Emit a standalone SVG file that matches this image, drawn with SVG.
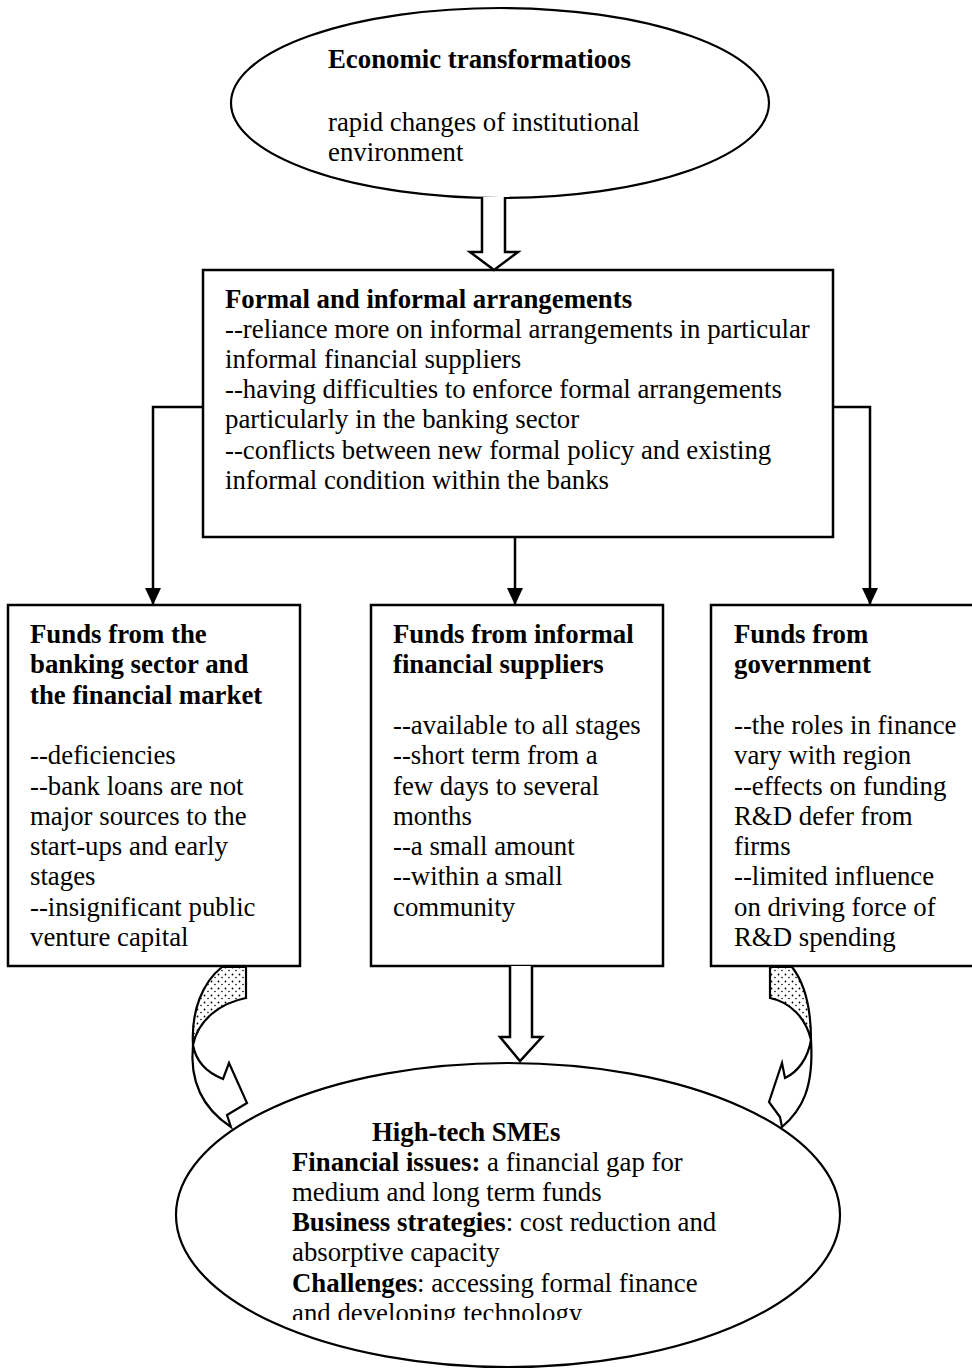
<svg xmlns="http://www.w3.org/2000/svg" width="972" height="1369" viewBox="0 0 972 1369">
<defs>
<style>
.t{font-family:"Liberation Serif","Times New Roman",serif;font-size:26.8px;fill:#000}
.b{font-weight:bold}
.box{fill:#fff;stroke:#000;stroke-width:2.5}
.ell{fill:#fff;stroke:#000;stroke-width:2.2}
.ln{fill:none;stroke:#000;stroke-width:2.5}
.hol{fill:#fff;stroke:#000;stroke-width:2.5;stroke-linejoin:miter}
.cur{fill:#fff;stroke:#000;stroke-width:2.2;stroke-linejoin:miter}
.dot{fill:url(#stip);stroke:#000;stroke-width:2.2}
</style>
<marker id="ah" markerUnits="userSpaceOnUse" markerWidth="18" markerHeight="18" viewBox="0 0 18 18" refX="17" refY="9" orient="auto">
<path d="M0,1 L17,9 L0,17 Z" fill="#000"/>
</marker>
<pattern id="stip" patternUnits="userSpaceOnUse" width="7" height="7">
<rect width="7" height="7" fill="#fff"/>
<circle cx="1.5" cy="1.5" r="0.9" fill="#000"/>
<circle cx="5" cy="4.5" r="0.8" fill="#000"/>
</pattern>
<clipPath id="clipLast"><rect x="0" y="1290" width="972" height="30"/></clipPath>
</defs>

<g id="node-economic">
<ellipse class="ell" cx="500" cy="103" rx="269" ry="95"/>
<text class="t b" x="328" y="68">Economic transformatioos</text>
<text class="t" x="328" y="131">rapid changes of institutional</text>
<text class="t" x="328" y="161">environment</text>
</g>

<g id="node-formal">
<rect class="box" x="203" y="270" width="630" height="267"/>
<text class="t b" x="225" y="308">Formal and informal arrangements</text>
<text class="t" x="225" y="338">--reliance more on informal arrangements in particular</text>
<text class="t" x="225" y="368">informal financial suppliers</text>
<text class="t" x="225" y="398">--having difficulties to enforce formal arrangements</text>
<text class="t" x="225" y="428">particularly in the banking sector</text>
<text class="t" x="225" y="459">--conflicts between new formal policy and existing</text>
<text class="t" x="225" y="489">informal condition within the banks</text>
</g>

<g id="node-banking">
<rect class="box" x="8" y="605" width="292" height="361"/>
<text class="t b" x="30" y="643">Funds from the</text>
<text class="t b" x="30" y="673">banking sector and</text>
<text class="t b" x="30" y="704">the financial market</text>
<text class="t" x="30" y="764">--deficiencies</text>
<text class="t" x="30" y="795">--bank loans are not</text>
<text class="t" x="30" y="825">major sources to the</text>
<text class="t" x="30" y="855">start-ups and early</text>
<text class="t" x="30" y="885">stages</text>
<text class="t" x="30" y="916">--insignificant public</text>
<text class="t" x="30" y="946">venture capital</text>
</g>

<g id="node-informal">
<rect class="box" x="371" y="605" width="292" height="361"/>
<text class="t b" x="393" y="643">Funds from informal</text>
<text class="t b" x="393" y="673">financial suppliers</text>
<text class="t" x="393" y="734">--available to all stages</text>
<text class="t" x="393" y="764">--short term from a</text>
<text class="t" x="393" y="795">few days to several</text>
<text class="t" x="393" y="825">months</text>
<text class="t" x="393" y="855">--a small amount</text>
<text class="t" x="393" y="885">--within a small</text>
<text class="t" x="393" y="916">community</text>
</g>

<g id="node-government">
<rect class="box" x="711" y="605" width="280" height="361"/>
<text class="t b" x="734" y="643">Funds from</text>
<text class="t b" x="734" y="673">government</text>
<text class="t" x="734" y="734">--the roles in finance</text>
<text class="t" x="734" y="764">vary with region</text>
<text class="t" x="734" y="795">--effects on funding</text>
<text class="t" x="734" y="825">R&amp;D defer from</text>
<text class="t" x="734" y="855">firms</text>
<text class="t" x="734" y="885">--limited influence</text>
<text class="t" x="734" y="916">on driving force of</text>
<text class="t" x="734" y="946">R&amp;D spending</text>
</g>

<g id="node-smes">
<ellipse class="ell" cx="508" cy="1215" rx="332" ry="152"/>
<text class="t b" x="372" y="1141">High-tech SMEs</text>
<text class="t" x="292" y="1171"><tspan class="b">Financial issues:</tspan> a financial gap for</text>
<text class="t" x="292" y="1201">medium and long term funds</text>
<text class="t" x="292" y="1231"><tspan class="b">Business strategies</tspan>: cost reduction and</text>
<text class="t" x="292" y="1261">absorptive capacity</text>
<text class="t" x="292" y="1292"><tspan class="b">Challenges</tspan>: accessing formal finance</text>
<text class="t" x="292" y="1322" clip-path="url(#clipLast)">and developing technology</text>
</g>

<g id="connectors">
<path class="hol" d="M482,197 V252 H470 L494,270 L518,252 H505 V197"/>
<path class="ln" d="M203,407 H153 V605" marker-end="url(#ah)"/>
<path class="ln" d="M833,407 H870 V605" marker-end="url(#ah)"/>
<path class="ln" d="M515,537 V605" marker-end="url(#ah)"/>
<path class="hol" d="M510,966 V1037 H500 L520,1061 L542,1037 H532 V966"/>
<path class="dot" d="M222,967 L246,967 L246,998 C220,1003 198,1020 193,1045 C191,1010 203,982 222,967 Z"/>
<path class="cur" d="M193,1045 C196,1062 208,1073 223,1079 L229,1063 L247,1103 L227,1115 L231,1127 C205,1110 189,1085 193,1045 Z"/>
<path class="dot" d="M770,967 L792,967 C806,985 811,1010 811,1040 C806,1018 790,1002 770,998 Z"/>
<path class="cur" d="M811,1040 C808,1058 798,1072 785,1078 L782,1063 L769,1102 L780,1117 L782,1127 C802,1110 814,1088 811,1040 Z"/>
</g>
</svg>
